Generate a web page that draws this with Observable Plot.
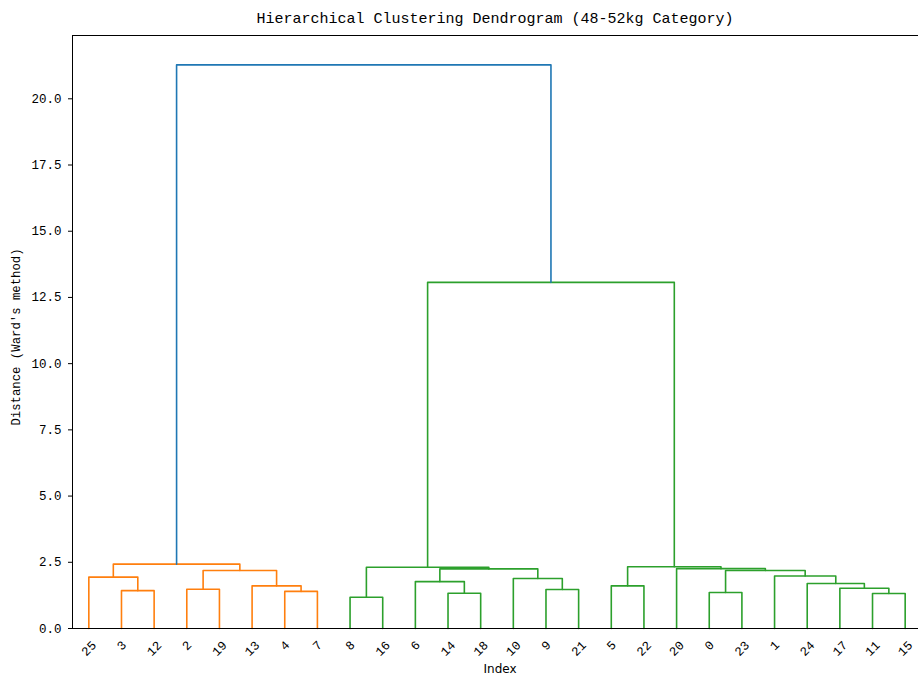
<!DOCTYPE html>
<html><head><meta charset="utf-8">
<script src="https://cdn.jsdelivr.net/npm/d3@7"></script>
<script src="https://cdn.jsdelivr.net/npm/@observablehq/plot@0.6"></script>
<style>
body{margin:0;background:#fff;overflow:hidden;width:918px;height:676px}
#title{height:28px;box-sizing:border-box;padding:12px 0 0 72px;font:15px/15px "Liberation Mono",monospace;text-align:center;color:#000;white-space:nowrap}
</style></head><body>
<div id="title">Hierarchical Clustering Dendrogram (48-52kg Category)</div>
<div id="chart"></div>
<script>
// leaf labels in dendrogram order (left to right)
const leafOrder = [25, 3, 12, 2, 19, 13, 4, 7, 8, 16, 6, 14, 18, 10, 9, 21, 5, 22, 20, 0, 23, 1, 24, 17, 11, 15];
// linkage: child ids (0-25 = sample index, 26+ = earlier merge), merge distance, cluster
const mergeLeft   = [3, 25, 2, 4, 13, 28, 27,   8, 14, 6, 9, 10, 35, 33,   5, 0, 11, 17, 24, 1, 41, 20, 40,  39, 32];
const mergeRight  = [12, 26, 19, 7, 29, 30, 31, 16, 18, 34, 21, 36, 37, 38, 22, 23, 15, 42, 43, 44, 45, 46, 47, 48, 49];
const mergeHeight = [1.43, 1.94, 1.48, 1.40, 1.61, 2.19, 2.43, 1.18, 1.33, 1.77, 1.47, 1.89, 2.25, 2.31, 1.61, 1.36, 1.32, 1.52, 1.70, 1.98, 2.19, 2.26, 2.33, 13.07, 21.28];
const mergeCluster = ["C1","C1","C1","C1","C1","C1","C1","C2","C2","C2","C2","C2","C2","C2","C2","C2","C2","C2","C2","C2","C2","C2","C2","C2","C0"];
const clusterNames = ["C1", "C2", "C0"];
const yTicks = [0, 2.5, 5, 7.5, 10, 12.5, 15, 17.5, 20];
const title = "Hierarchical Clustering Dendrogram (48-52kg Category)";
const xLabel = "Index";
const yLabel = "Distance (Ward's method)";

const nLeaves = leafOrder.length;
const nodeX = {}, nodeH = {};
leafOrder.forEach((leaf, i) => { nodeX[leaf] = 5 + 10 * i; nodeH[leaf] = 0; });
const rows = [];
mergeHeight.forEach((h, k) => {
  const id = nLeaves + k, a = mergeLeft[k], b = mergeRight[k];
  nodeX[id] = (nodeX[a] + nodeX[b]) / 2; nodeH[id] = h;
  const c = mergeCluster[k];
  rows.push({link: k, x: nodeX[a], y: nodeH[a], cluster: c});
  rows.push({link: k, x: nodeX[a], y: h, cluster: c});
  rows.push({link: k, x: nodeX[b], y: h, cluster: c});
  rows.push({link: k, x: nodeX[b], y: nodeH[b], cluster: c});
});
const leaves = leafOrder.map((leaf, i) => ({x: 5 + 10 * i, label: String(leaf)}));
const yMax = 22.39;

const chart = Plot.plot({
  width: 918, height: 648,
  marginTop: 7, marginBottom: 48, marginLeft: 72, marginRight: -3,
  x: {domain: [0, 10 * nLeaves], axis: null},
  y: {domain: [0, yMax], axis: null},
  color: {domain: clusterNames, range: ["#ff7f0e", "#2ca02c", "#1f77b4"]},
  style: {fontFamily: "Liberation Mono, monospace", fontSize: "12.5px", color: "#000", background: "#fff", overflow: "visible"},
  marks: [
    Plot.line(rows, {x: "x", y: "y", z: "link", stroke: "cluster", strokeWidth: 1.6}),
    Plot.ruleX([0], {stroke: "#000", strokeWidth: 1}),
    Plot.ruleY([0, yMax], {stroke: "#000", strokeWidth: 1}),
    Plot.axisY({ticks: yTicks, tickFormat: d3.format(".1f"), tickSize: 4, tickPadding: 7, label: null, fontSize: 12.5, stroke: "#000"}),
    Plot.text(leaves.filter(d => d.label.length === 1), {x: "x", y: 0, text: "label", rotate: -45, dy: 17, textAnchor: "middle", lineAnchor: "middle", fontSize: 12.5}),
    Plot.text(leaves.filter(d => d.label.length > 1), {x: "x", y: 0, text: "label", rotate: -45, dy: 20, textAnchor: "middle", lineAnchor: "middle", fontSize: 12.5}),
    Plot.text([yLabel], {frameAnchor: "left", rotate: -90, dx: -56, dy: 5, textAnchor: "middle", lineAnchor: "middle", fontSize: 12.3}),
    Plot.text([xLabel], {frameAnchor: "bottom", dx: 3, dy: 41, textAnchor: "middle", lineAnchor: "middle", fontSize: 12, fontFamily: "DejaVu Sans, sans-serif"})
  ]
});
document.getElementById("title").textContent = title;
document.getElementById("chart").appendChild(chart);
</script>
</body></html>
